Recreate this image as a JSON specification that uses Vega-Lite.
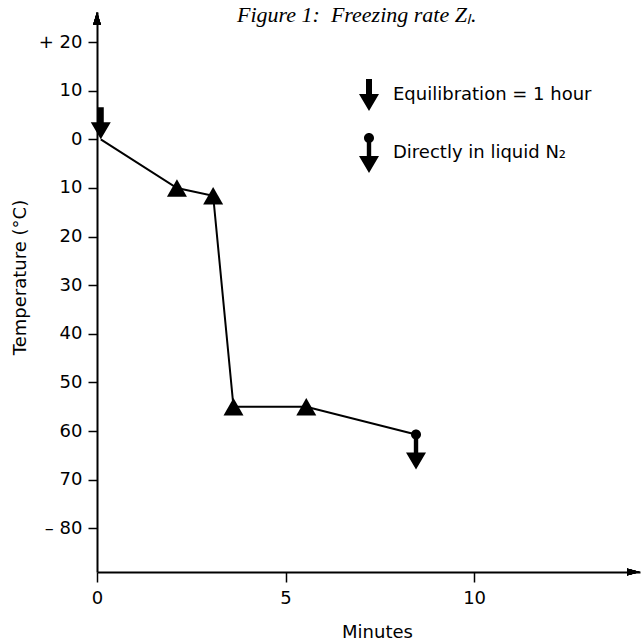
{
  "$schema": "https://vega.github.io/schema/vega-lite/v6.json",
  "width": 543,
  "height": 560,
  "autosize": {"type": "none"},
  "padding": {"left": 97, "top": 12, "right": 3, "bottom": 70},
  "background": "white",
  "title": {
    "text": "Figure 1: \u00a0Freezing rate Zₗ.",
    "anchor": "start",
    "frame": "group",
    "dx": 140,
    "offset": -32,
    "baseline": "alphabetic",
    "font": "Liberation Serif",
    "fontStyle": "italic",
    "fontWeight": "normal",
    "fontSize": 22,
    "color": "black"
  },
  "data": {
    "values": [
      {"minutes": 0.1, "temp": 0, "kind": "start", "marker": "Equilibration = 1 hour"},
      {"minutes": 2.12, "temp": -10, "kind": "step", "marker": null},
      {"minutes": 3.08, "temp": -11.6, "kind": "step", "marker": null},
      {"minutes": 3.62, "temp": -55, "kind": "step", "marker": null},
      {"minutes": 5.55, "temp": -55, "kind": "step", "marker": null},
      {"minutes": 8.46, "temp": -60.7, "kind": "end", "marker": "Directly in liquid N₂"}
    ]
  },
  "encoding": {
    "x": {
      "field": "minutes",
      "type": "quantitative",
      "scale": {"domain": [0, 14.4], "nice": false, "zero": false},
      "axis": {
        "values": [0, 5, 10],
        "grid": false,
        "domainColor": "black",
        "domainWidth": 2,
        "tickColor": "black",
        "tickWidth": 1.5,
        "tickSize": 10,
        "labelFont": "DejaVu Sans",
        "labelFontSize": 18,
        "labelColor": "black",
        "labelPadding": 7,
        "labelFlush": false,
        "labelOverlap": false,
        "title": "Minutes",
        "titleFont": "DejaVu Sans",
        "titleFontSize": 18,
        "titleFontWeight": "normal",
        "titleColor": "black",
        "titleX": 280,
        "titleY": 60,
        "titleBaseline": "middle",
        "titleAlign": "center"
      }
    },
    "y": {
      "field": "temp",
      "type": "quantitative",
      "scale": {"domain": [-89, 26.2], "nice": false, "zero": false},
      "axis": {
        "values": [-80, -70, -60, -50, -40, -30, -20, -10, 0, 10, 20],
        "labelExpr": "datum.value == 20 ? '+ 20' : datum.value == -80 ? '– 80' : format(abs(datum.value), 'd')",
        "grid": false,
        "domainColor": "black",
        "domainWidth": 2,
        "tickColor": "black",
        "tickWidth": 1.5,
        "tickSize": 9,
        "labelFont": "DejaVu Sans",
        "labelFontSize": 18,
        "labelColor": "black",
        "labelPadding": 6,
        "labelFlush": false,
        "labelOverlap": false,
        "title": "Temperature (°C)",
        "titleFont": "DejaVu Sans",
        "titleFontSize": 18,
        "titleFontWeight": "normal",
        "titleColor": "black",
        "titleX": -77,
        "titleY": 265,
        "titleAngle": -90,
        "titleBaseline": "middle",
        "titleAlign": "center"
      }
    }
  },
  "layer": [
    {
      "mark": {"type": "line", "color": "black", "strokeWidth": 2}
    },
    {
      "transform": [{"filter": "datum.kind == 'step'"}],
      "mark": {"type": "point", "shape": "triangle-up", "filled": true, "color": "black", "size": 400, "opacity": 1, "strokeWidth": 0}
    },
    {
      "transform": [{"filter": "datum.kind == 'start'"}],
      "mark": {"type": "point", "filled": true, "color": "black", "size": 400, "opacity": 1, "strokeWidth": 0, "yOffset": -16},
      "encoding": {
        "shape": {
          "field": "marker",
          "type": "nominal",
          "scale": {
            "domain": ["Equilibration = 1 hour", "Directly in liquid N₂"],
            "range": [
              "M-0.3,-1.6L0.3,-1.6L0.3,-0.1L1,-0.1L0,1.6L-1,-0.1L-0.3,-0.1Z",
              "M-0.5,-1.5A0.5,0.5 0 1,1 0.5,-1.5A0.5,0.5 0 1,1 -0.5,-1.5Z M-0.22,-1.2L0.22,-1.2L0.22,0.3L1,0.3L0,2L-1,0.3L-0.22,0.3Z"
            ]
          },
          "legend": {
            "orient": "none",
            "legendX": 262,
            "legendY": 73,
            "title": null,
            "padding": 0,
            "symbolSize": 400,
            "symbolFillColor": "black",
            "symbolStrokeColor": "black",
            "symbolStrokeWidth": 0,
            "symbolOpacity": 1,
            "labelFont": "DejaVu Sans",
            "labelFontSize": 18,
            "labelColor": "black",
            "labelOffset": 14,
            "rowPadding": 22,
            "labelLimit": 400
          }
        }
      }
    },
    {
      "transform": [{"filter": "datum.kind == 'end'"}],
      "mark": {"type": "point", "filled": true, "color": "black", "size": 400, "opacity": 1, "strokeWidth": 0, "yOffset": 15},
      "encoding": {
        "shape": {"field": "marker", "type": "nominal"}
      }
    },
    {
      "mark": {"type": "point", "shape": "M0,0L-0.4,1.3L0.4,1.3Z", "filled": true, "color": "black", "size": 400, "opacity": 1, "strokeWidth": 0},
      "encoding": {"x": {"datum": 0}, "y": {"datum": 26.2}}
    },
    {
      "mark": {"type": "point", "shape": "M0,0L-1.3,-0.35L-1.3,0.35Z", "filled": true, "color": "black", "size": 400, "opacity": 1, "strokeWidth": 0},
      "encoding": {"x": {"datum": 14.4}, "y": {"datum": -89}}
    }
  ],
  "config": {"view": {"stroke": null}}
}
